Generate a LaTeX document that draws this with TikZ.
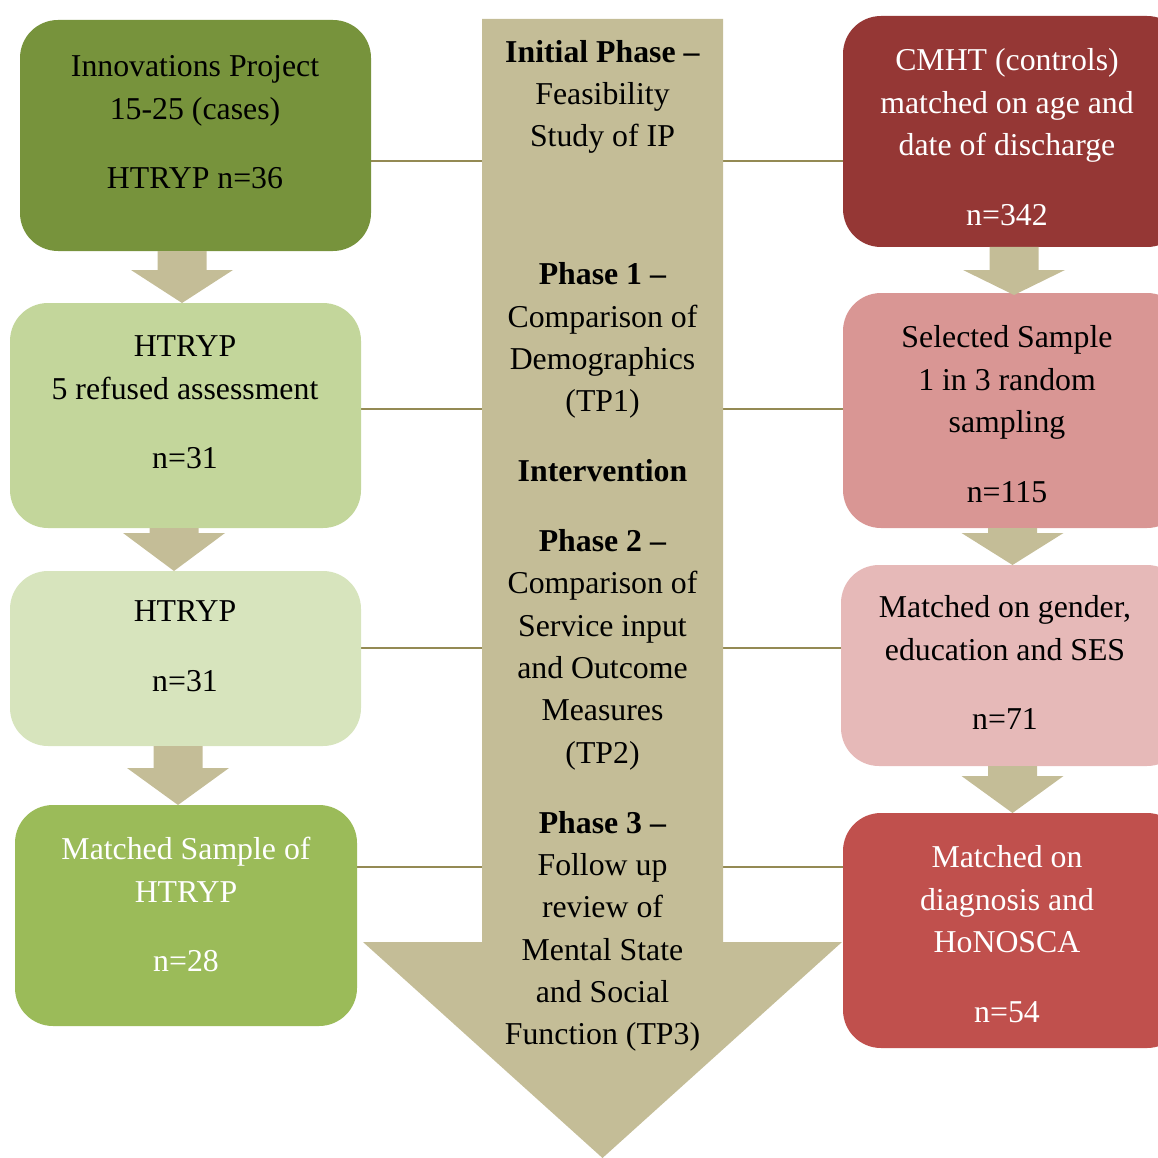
\documentclass[tikz,border=0pt]{standalone}
\usepackage{fontspec}
\setmainfont{Liberation Serif}
\usetikzlibrary{backgrounds}

\definecolor{oliveDark}{HTML}{77933C}
\definecolor{oliveMid}{HTML}{C3D69B}
\definecolor{oliveLight}{HTML}{D7E4BD}
\definecolor{oliveBright}{HTML}{9BBB59}
\definecolor{redDark}{HTML}{953735}
\definecolor{redMid}{HTML}{D99694}
\definecolor{redLight}{HTML}{E6B9B8}
\definecolor{redBright}{HTML}{C0504D}
\definecolor{tanFill}{HTML}{C4BD97}
\definecolor{linkc}{HTML}{948A54}

% fixes the height of the first text line so that anchor=north is predictable
\newcommand\firstrow{\rule{0pt}{25pt}}

\tikzset{
  pics/fatarrow/.style 2 args={code={
    \fill[tanFill] (-24.5,0) -- (-24.5,#1) -- (-51,#1) -- (0,#2)
                   -- (51,#1) -- (24.5,#1) -- (24.5,0) -- cycle;
  }}
}

\begin{document}
\begin{tikzpicture}[x=1pt,y=-1pt,
  box/.style={rounded corners=38pt, inner sep=0pt, draw=none},
  txt/.style={anchor=north, align=center, inner sep=0pt,
              font=\fontsize{31.8}{42.35}\selectfont},
  link/.style={draw=linkc, line width=2pt}]

\clip (0,0) rectangle (1158,1158);

% left column (cases)
\node[box, fill=oliveDark,   minimum width=351pt, minimum height=231pt] (L1) at (195.5,135.5) {};
\node[box, fill=oliveMid,    minimum width=351pt, minimum height=225pt] (L2) at (185.5,415.5) {};
\node[box, fill=oliveLight,  minimum width=351pt, minimum height=175pt] (L3) at (185.5,658.5) {};
\node[box, fill=oliveBright, minimum width=342pt, minimum height=221pt] (L4) at (186,915.5) {};

% right column (controls), running off the right edge
\node[box, fill=redDark,   minimum width=342pt, minimum height=231pt] (R1) at (1014,131.5) {};
\node[box, fill=redMid,    minimum width=342pt, minimum height=235pt] (R2) at (1014,410.5) {};
\node[box, fill=redLight,  minimum width=344pt, minimum height=201pt] (R3) at (1013,665.5) {};
\node[box, fill=redBright, minimum width=342pt, minimum height=235pt] (R4) at (1014,930.5) {};

% horizontal links between the columns, behind the phase arrow
\begin{scope}[on background layer]
\draw[link] (L1.east |- 0,161) -- (R1.west |- 0,161);
\draw[link] (L2.east |- 0,409) -- (R2.west |- 0,409);
\draw[link] (L3.east |- 0,648) -- (R3.west |- 0,648);
\draw[link] (L4.east |- 0,867) -- (R4.west |- 0,867);
\end{scope}

% central phase arrow
\fill[tanFill] (482,19) -- (723,19) -- (723,942) -- (842,942)
               -- (602.5,1158) -- (363,942) -- (482,942) -- cycle;

% block arrows within each column
\pic at (182,251)    {fatarrow={19}{52}};
\pic at (174,528)    {fatarrow={5}{43}};
\pic at (178,746)    {fatarrow={22}{59}};
\pic at (1014,247)   {fatarrow={23}{48}};
\pic at (1012.5,528) {fatarrow={5}{37}};
\pic at (1012.5,766) {fatarrow={10}{47}};

% box texts
\node[txt] (L1t) at (195,51.5)  {\firstrow Innovations Project\\15-25 (cases)\\[27.5pt]HTRYP n=36};
\node[txt] (L2t) at (185,331.5) {\firstrow HTRYP\\5 refused assessment\\[27.5pt]n=31};
\node[txt] (L3t) at (185,596.5) {\firstrow HTRYP\\[27.5pt]n=31};
\node[txt, text=white] (L4t) at (186,834.5) {\firstrow Matched Sample of\\HTRYP\\[27.5pt]n=28};

\node[txt, text=white] (R1t) at (1007,45.5) {\firstrow CMHT (controls)\\matched on age and\\date of discharge\\[27.5pt]n=342};
\node[txt] (R2t) at (1007,322.5) {\firstrow Selected Sample\\1 in 3 random\\sampling\\[27.5pt]n=115};
\node[txt] (R3t) at (1005,592.5) {\firstrow Matched on gender,\\education and SES\\[27.5pt]n=71};
\node[txt, text=white] (R4t) at (1007,842.5) {\firstrow Matched on\\diagnosis and\\HoNOSCA\\[27.5pt]n=54};

% phase descriptions on the central arrow
\node[txt] (Ct) at (602.5,37) {\firstrow\textbf{Initial Phase –}\\Feasibility\\Study of IP\\[95.5pt]
  \textbf{Phase 1 –}\\Comparison of\\Demographics\\(TP1)\\[27.5pt]
  \textbf{Intervention}\\[27.5pt]
  \textbf{Phase 2 –}\\Comparison of\\Service input\\and Outcome\\Measures\\(TP2)\\[27.5pt]
  \textbf{Phase 3 –}\\Follow up\\review of\\Mental State\\and Social\\Function (TP3)};

\end{tikzpicture}
\end{document}
